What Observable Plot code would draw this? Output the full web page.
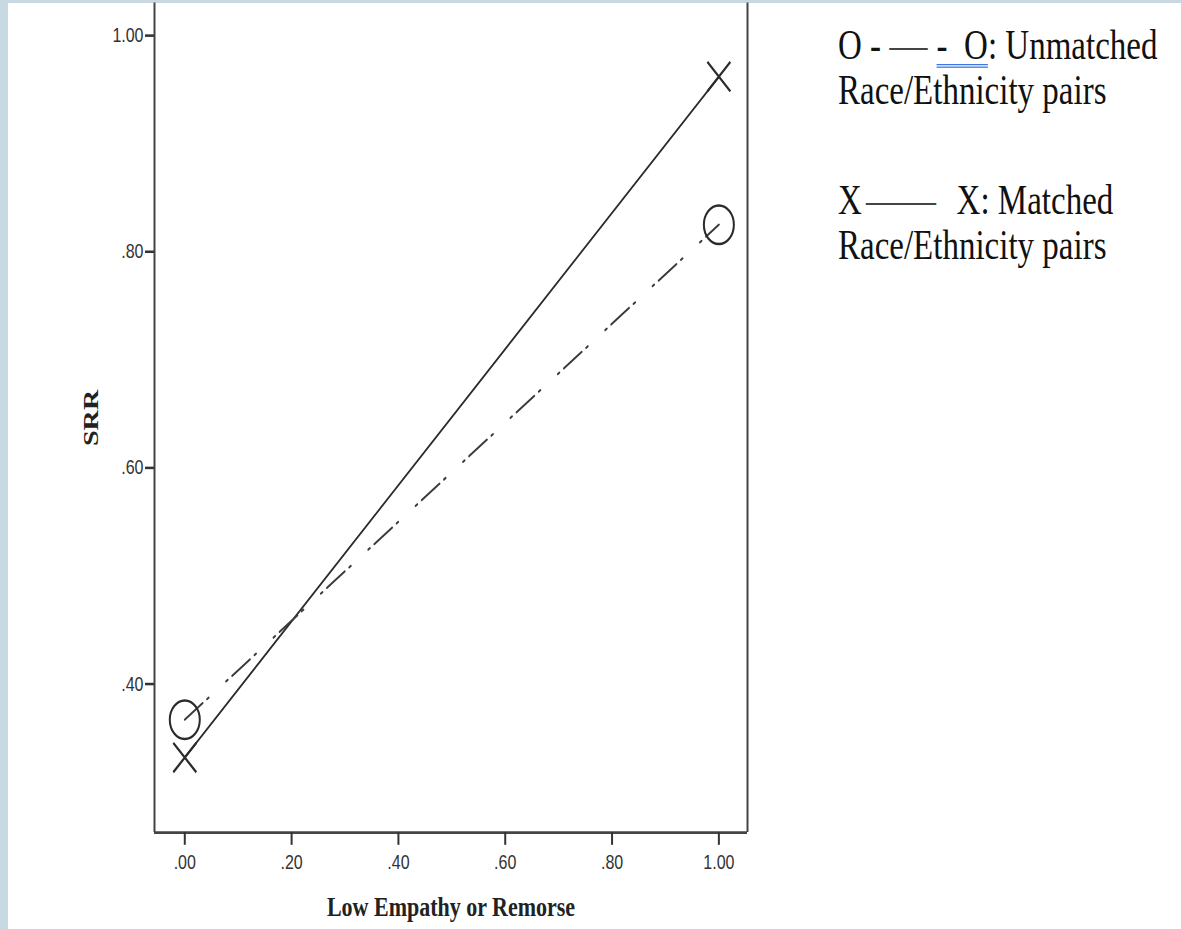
<!DOCTYPE html>
<html><head><meta charset="utf-8">
<script src="https://cdn.jsdelivr.net/npm/d3@7"></script>
<script src="https://cdn.jsdelivr.net/npm/@observablehq/plot@0.6"></script>
<style>
html,body{margin:0;padding:0;width:1181px;height:929px;overflow:hidden;background:#c9d9e3;}
#panel{position:absolute;left:8px;top:3px;right:0;bottom:0;background:#fff;}
#stage{position:absolute;left:0;top:0;width:1181px;height:725.8px;transform:scaleY(1.28);transform-origin:0 0;}
#chart{position:absolute;left:8px;top:2.34px;}
.leg{position:absolute;left:838px;font-family:"Liberation Serif","Times New Roman",serif;font-size:33px;line-height:35px;color:#111;white-space:nowrap;}
.ul{text-decoration-line:underline;text-decoration-style:double;text-decoration-color:#3f78e0;text-decoration-thickness:1px;text-underline-offset:4px;}
.dash{color:#444;display:inline-block;transform:scaleX(1.15);margin:0 3px;}
.dash2{color:#444;display:inline-block;transform:scaleX(1.06);transform-origin:0 0;margin-left:4px;}
#chart g[aria-label="x-axis label"], #chart g[aria-label="y-axis label"]{font-family:"Liberation Serif","Times New Roman",serif;font-size:22px;font-weight:bold;fill:#222;}
#chart g[aria-label="x-axis tick label"], #chart g[aria-label="y-axis tick label"]{font-family:"Liberation Sans Narrow","Arial Narrow","Liberation Sans",Arial,sans-serif;font-stretch:condensed;}
</style></head><body>
<div id="panel"></div>
<div id="stage">
  <div id="chart"></div>
  <div class="leg" style="top:18px">O - <span class="dash">—</span> <span class="ul">-&nbsp;&nbsp;O</span>: Unmatched<br>Race/Ethnicity pairs</div>
  <div class="leg" style="top:139px">X<span class="dash2">——</span>&nbsp;&nbsp; X: Matched<br>Race/Ethnicity pairs</div>
</div>
<script>
// Data
const empathyLevels = [0, 1];            // x: Low Empathy or Remorse
const matchedSRR = [0.332, 0.962];       // X —— X : Matched Race/Ethnicity pairs
const unmatchedSRR = [0.367, 0.825];     // O -·- O : Unmatched Race/Ethnicity pairs
const xTicks = [0, 0.2, 0.4, 0.6, 0.8, 1.0];
const yTicks = [0.4, 0.6, 0.8, 1.0];
const xDomain = [-0.0567, 1.0536];
const yDomain = [0.2625, 1.030];

const matched = empathyLevels.map((x, i) => ({x, y: matchedSRR[i]}));
const unmatched = empathyLevels.map((x, i) => ({x, y: unmatchedSRR[i]}));

const fmt = d => d3.format(".2f")(d).replace(/^0\./, ".");
const symbolX = {draw(ctx, size) {const r = Math.sqrt(size / Math.PI); ctx.moveTo(-r, -r); ctx.lineTo(r, r); ctx.moveTo(r, -r); ctx.lineTo(-r, r);}};

const plot = Plot.plot({
  width: 770,
  height: 723,
  marginLeft: 146,
  marginRight: 31,
  marginTop: 0,
  marginBottom: 75,
  style: {background: "transparent", color: "#333", overflow: "visible"},
  x: {domain: xDomain},
  y: {domain: yDomain},
  marks: [
    Plot.ruleX([xDomain[0], xDomain[1]], {stroke: "#444", strokeWidth: 2}),
    Plot.ruleY([yDomain[0]], {stroke: "#444", strokeWidth: 2}),
    Plot.axisX(xTicks, {anchor: "bottom", tickSize: 10, tickPadding: 7, tickFormat: fmt, fontSize: 16, stroke: "#333", strokeWidth: 2, fill: "#333",
      label: "Low Empathy or Remorse", labelAnchor: "center", labelArrow: "none", labelOffset: 65}),
    Plot.axisY(yTicks, {anchor: "left", tickSize: 9, tickPadding: 2, tickFormat: fmt, fontSize: 16, stroke: "#333", strokeWidth: 2, fill: "#333",
      label: "SRR", labelAnchor: "center", labelArrow: "none", labelOffset: 72}),
    Plot.line(matched, {x: "x", y: "y", stroke: "#2b2b2b", strokeWidth: 1.6}),
    Plot.line(unmatched, {x: "x", y: "y", stroke: "#3a3a3a", strokeWidth: 1.7, strokeDasharray: "22,5.5,2,21.5,2,5.5"}),
    Plot.dot(unmatched, {x: "x", y: "y", symbol: "circle", r: 15, fill: "none", stroke: "#2b2b2b", strokeWidth: 2}),
    Plot.dot(matched, {x: "x", y: "y", symbol: symbolX, r: 11.5, fill: "none", stroke: "#2b2b2b", strokeWidth: 2})
  ]
});
document.getElementById("chart").appendChild(plot);
</script>
</body></html>
